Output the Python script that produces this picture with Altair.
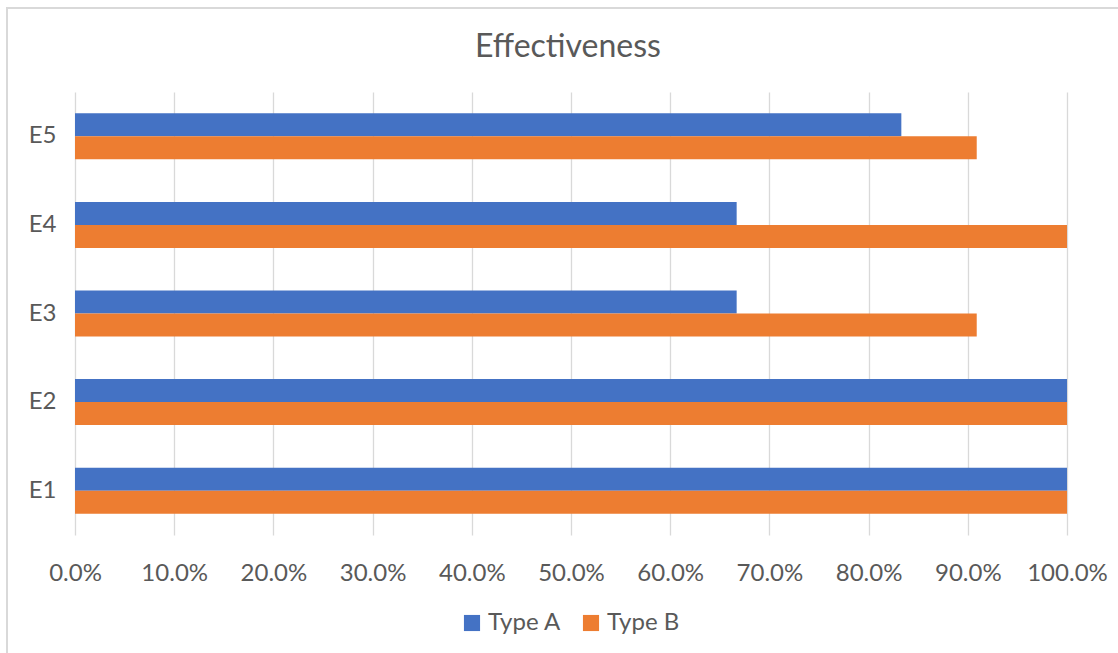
import altair as alt
import pandas as pd

categories = ["E1", "E2", "E3", "E4", "E5"]
series = ["Type A", "Type B"]
type_a = [1.0, 1.0, 0.667, 0.667, 0.833]
type_b = [1.0, 1.0, 0.909, 1.0, 0.909]
colors = ["#4472C4", "#ED7D31"]
x_ticks = [i / 10 for i in range(11)]
title_text = ["Effectiveness"]

rows = []
for c, a, b in zip(categories, type_a, type_b):
    rows.append({"cat": c, "series": "Type A", "value": a})
    rows.append({"cat": c, "series": "Type B", "value": b})
df = pd.DataFrame(rows)

FONT = "Lato"
GREY = "#595959"

bars = alt.Chart(df).mark_bar(size=23).encode(
    y=alt.Y("cat:N", sort=categories[::-1],
            scale=alt.Scale(paddingInner=0.48, paddingOuter=0.24),
            axis=alt.Axis(title=None, labelFontSize=24, labelColor=GREY, labelFont=FONT,
                          ticks=False, domain=False, labelPadding=19, grid=False)),
    yOffset=alt.YOffset("series:N", sort=series, scale=alt.Scale(paddingInner=0, paddingOuter=0)),
    x=alt.X("value:Q", scale=alt.Scale(domain=[0, 1], nice=False),
            axis=alt.Axis(title=None, format=".1%", values=x_ticks, labelFontSize=24,
                          labelColor=GREY, labelFont=FONT, ticks=False, domain=False,
                          labelOverlap=False, labelFlush=False,
                          grid=True, gridColor="#d9d9d9", gridWidth=1.3, labelPadding=26)),
    color=alt.Color("series:N", sort=series,
                    scale=alt.Scale(domain=series, range=colors),
                    legend=alt.Legend(title=None, orient="none", direction="horizontal",
                                      legendX=385, legendY=519, symbolType="square",
                                      symbolSize=260, symbolStrokeWidth=0,
                                      labelFontSize=24, labelColor=GREY, labelFont=FONT,
                                      columnPadding=18, labelOffset=4)),
)

border = alt.Chart(df).mark_rect(fill=None, stroke="#d9d9d9", strokeWidth=1.3, clip=False).encode(
    x=alt.value(-68), x2=alt.value(1060), y=alt.value(-84), y2=alt.value(580)
)

title = alt.Chart(pd.DataFrame({"t": title_text})).mark_text(
    font=FONT, fontSize=32, color=GREY, align="center", baseline="alphabetic"
).encode(text="t:N", x=alt.value(493), y=alt.value(-35))

chart = alt.layer(border, bars, title).properties(
    width=992, height=443,
    autosize=alt.AutoSizeParams(type="none"),
    padding={"left": 75, "top": 92, "right": 51, "bottom": 118},
    background="white",
).configure_view(stroke=None)

chart.save("out.html", embed_options={"renderer": "svg", "actions": False})
